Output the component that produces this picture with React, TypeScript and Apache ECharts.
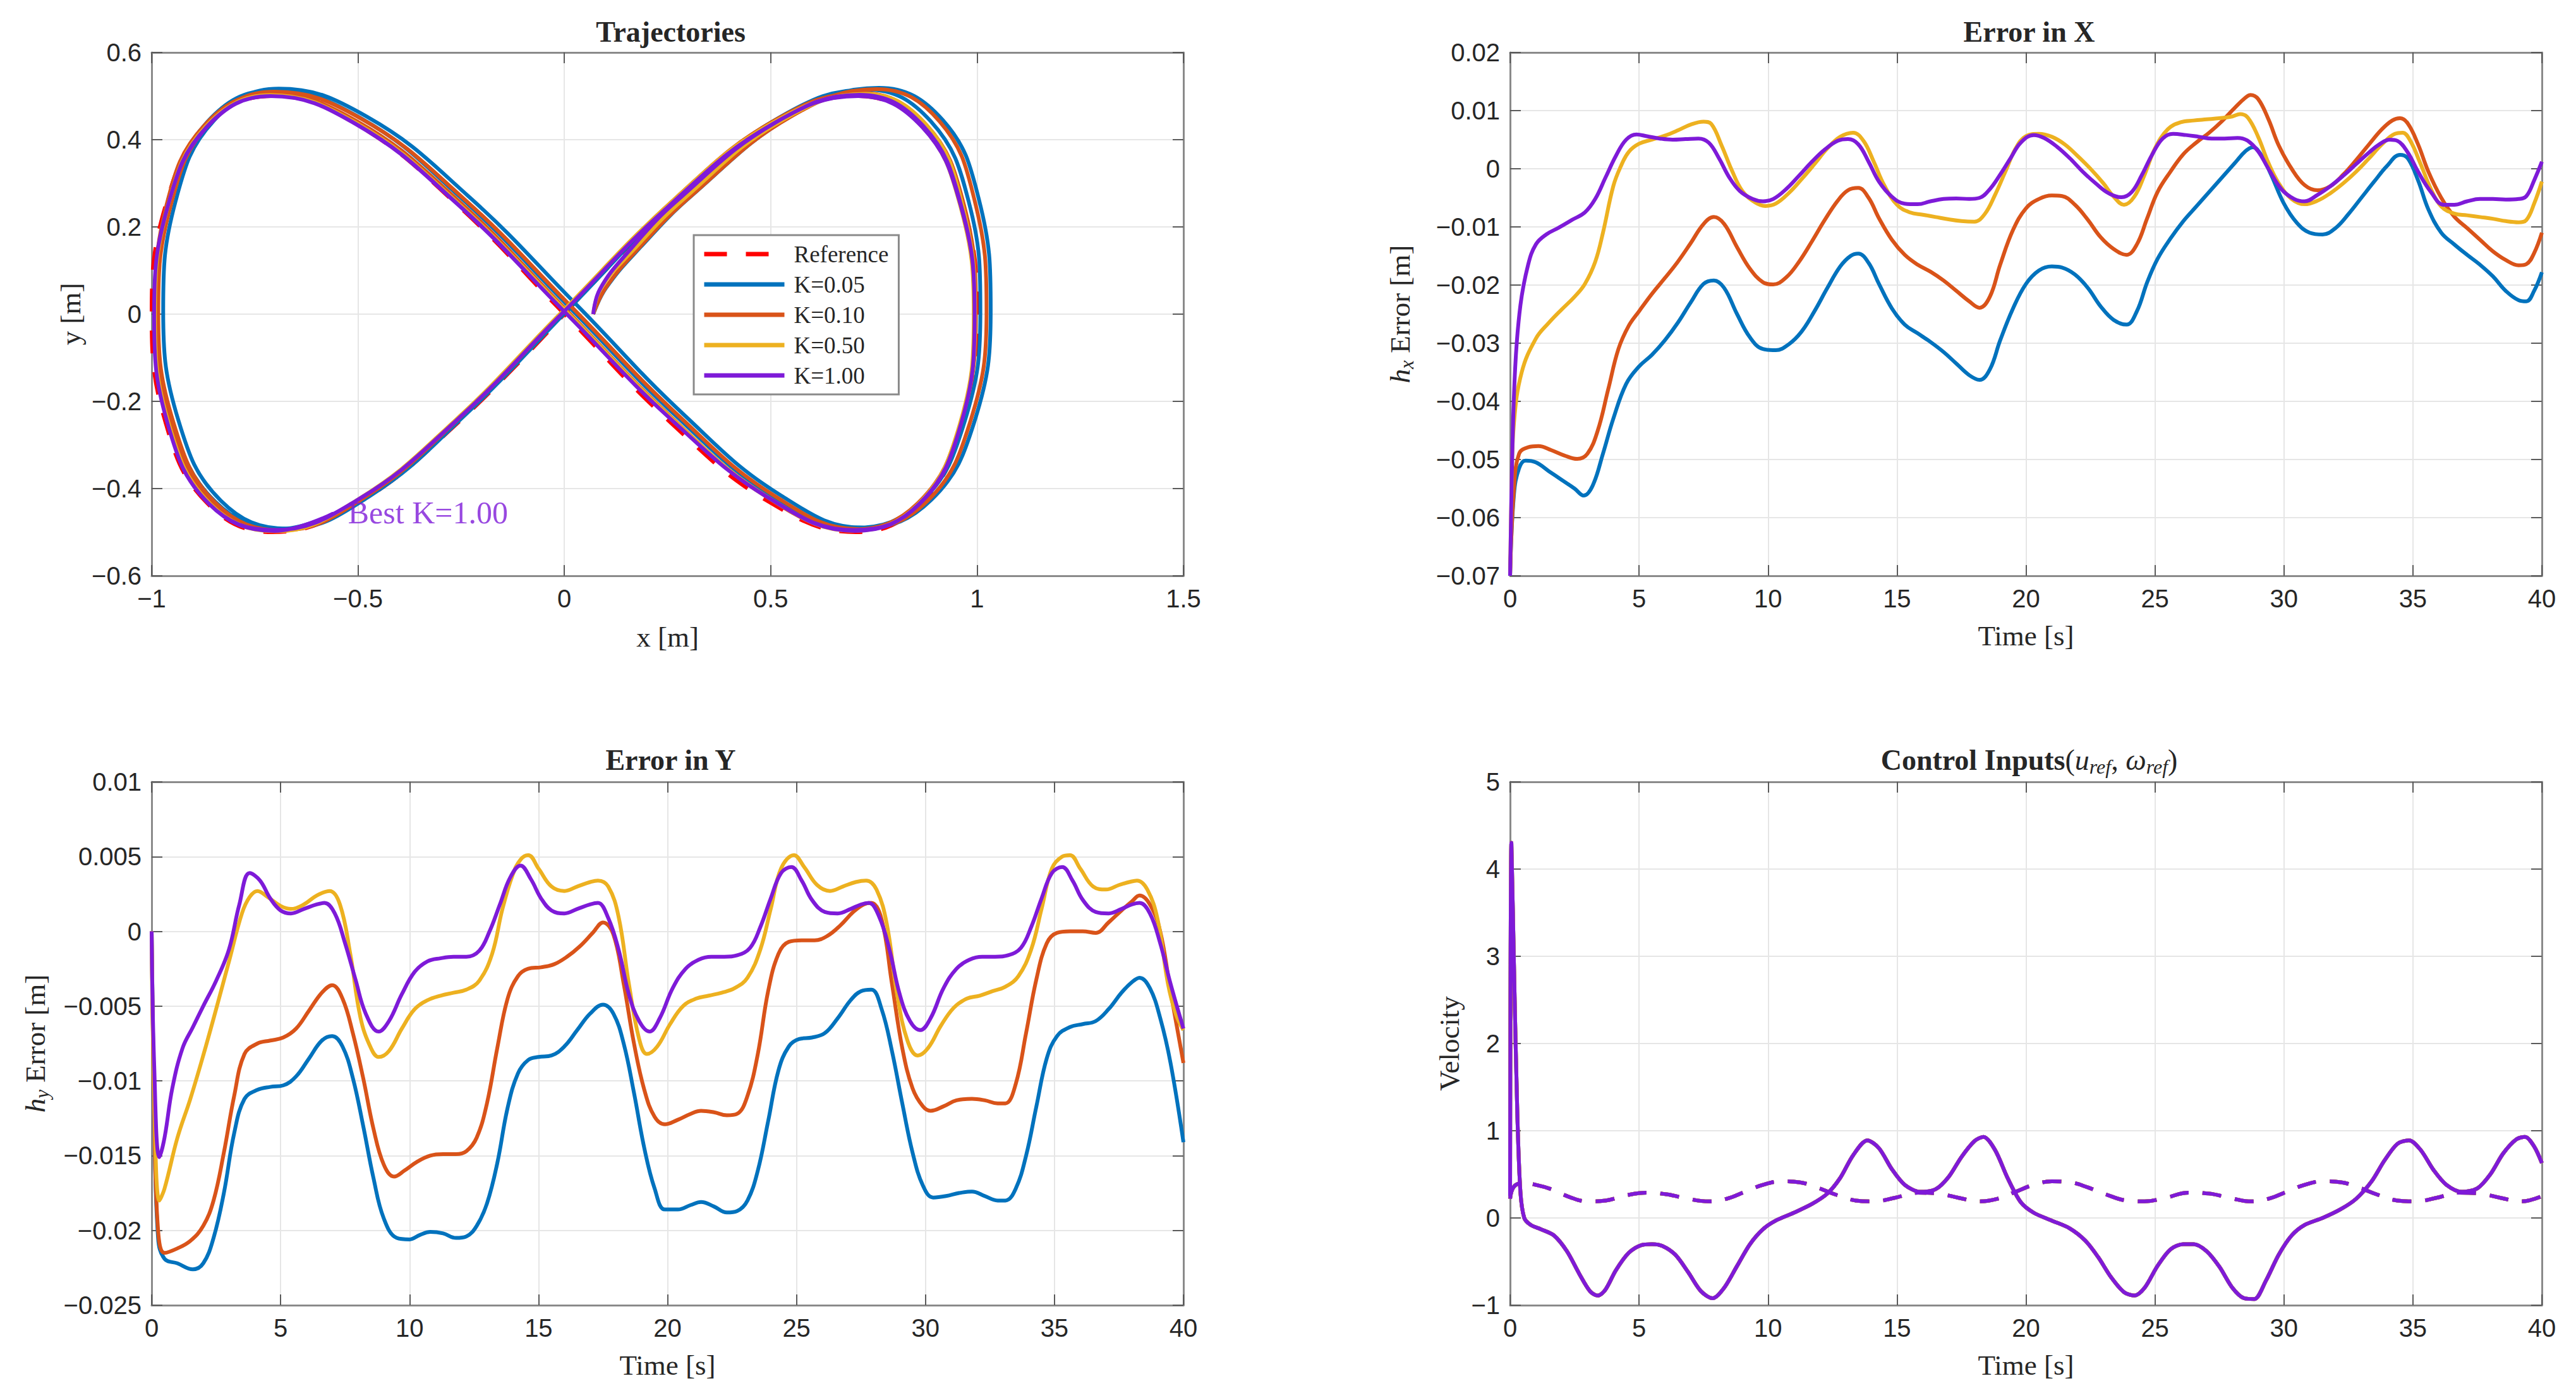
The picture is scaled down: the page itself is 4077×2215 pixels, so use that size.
import React, { useEffect, useRef } from "react";
import * as echarts from "echarts";

// ---- canvas ----
const W = 4077;
const H = 2215;

// ---- colours ----
const C_REF = "#FF0000";
const C_K005 = "#0072BD";
const C_K010 = "#D95319";
const C_K050 = "#EDB120";
const C_K100 = "#7E1AD8";
const AXIS = "#8a8a8a";
const TICK = "#5a5a5a";
const GRID = "#e6e6e6";
const TEXT = "#262626";

// ---- legend / series names ----
const LEGEND_NAMES = ["Reference", "K=0.05", "K=0.10", "K=0.50", "K=1.00"];
const GAIN_COLORS = [C_K005, C_K010, C_K050, C_K100];

// ---- reference figure-eight path [m] ----
const refX = [0, 0.259, 0.5, 0.707, 0.866, 0.966, 1, 0.966, 0.866, 0.707, 0.5, 0.259, 0, -0.259, -0.5, -0.707, -0.866, -0.966, -1, -0.966, -0.866, -0.707, -0.5, -0.259, 0];
const refY = [0, 0.25, 0.433, 0.5, 0.433, 0.25, 0, -0.25, -0.433, -0.5, -0.433, -0.25, 0, 0.25, 0.433, 0.5, 0.433, 0.25, 0, -0.25, -0.433, -0.5, -0.433, -0.25, 0];

// ---- robot paths [x, y] for each gain, 0 to 40 s ----
const trajK005 = [[0.07,0],[0.101,0.060],[0.182,0.151],[0.309,0.272],[0.553,0.456],[0.762,0.519],[0.917,0.445],[1.005,0.261],[1.033,0.010],[0.995,-0.242],[0.889,-0.426],[0.726,-0.490],[0.525,-0.416],[0.289,-0.230],[0.031,0.020],[-0.232,0.270],[-0.479,0.453],[-0.692,0.517],[-0.849,0.444],[-0.942,0.259],[-0.972,0.008],[-0.935,-0.244],[-0.832,-0.428],[-0.671,-0.492],[-0.473,-0.418],[-0.240,-0.231],[0.017,0.018],[0.277,0.269],[0.523,0.452],[0.733,0.515],[0.888,0.442],[0.980,0.257],[1.008,0.007],[0.970,-0.246],[0.866,-0.429],[0.704,-0.490],[0.504,-0.417],[0.269,-0.232],[0.011,0.017],[-0.252,0.268],[-0.496,0.451],[-0.708,0.513],[-0.866,0.440],[-0.956,0.256],[-0.987,0.006],[-0.949,-0.246],[-0.846,-0.430],[-0.684,-0.492],[-0.541,-0.450]];
const trajK010 = [[0.07,0],[0.100,0.060],[0.179,0.150],[0.307,0.271],[0.549,0.453],[0.757,0.516],[0.909,0.442],[0.995,0.257],[1.023,0.007],[0.984,-0.245],[0.879,-0.429],[0.715,-0.493],[0.513,-0.419],[0.278,-0.234],[0.019,0.015],[-0.244,0.265],[-0.492,0.448],[-0.703,0.510],[-0.860,0.437],[-0.953,0.252],[-0.984,0.002],[-0.947,-0.249],[-0.844,-0.434],[-0.684,-0.496],[-0.487,-0.422],[-0.253,-0.237],[0.005,0.012],[0.265,0.262],[0.511,0.445],[0.721,0.507],[0.877,0.434],[0.968,0.251],[0.997,0.000],[0.960,-0.251],[0.856,-0.434],[0.695,-0.494],[0.495,-0.422],[0.261,-0.238],[0.003,0.011],[-0.258,0.261],[-0.504,0.443],[-0.715,0.505],[-0.872,0.433],[-0.964,0.250],[-0.991,0.000],[-0.954,-0.251],[-0.851,-0.435],[-0.691,-0.497],[-0.548,-0.455]];
const trajK050 = [[0.07,0],[0.089,0.060],[0.167,0.147],[0.290,0.265],[0.525,0.443],[0.728,0.505],[0.879,0.432],[0.965,0.248],[0.995,-0.002],[0.960,-0.252],[0.858,-0.436],[0.700,-0.497],[0.502,-0.425],[0.265,-0.243],[0.006,0.005],[-0.258,0.254],[-0.503,0.437],[-0.713,0.502],[-0.868,0.429],[-0.961,0.246],[-0.992,-0.003],[-0.958,-0.253],[-0.857,-0.436],[-0.699,-0.498],[-0.500,-0.425],[-0.265,-0.244],[-0.006,0.005],[0.256,0.254],[0.501,0.437],[0.713,0.501],[0.868,0.429],[0.960,0.246],[0.992,-0.003],[0.958,-0.253],[0.857,-0.436],[0.701,-0.496],[0.502,-0.425],[0.265,-0.244],[0.005,0.005],[-0.257,0.254],[-0.502,0.437],[-0.712,0.501],[-0.870,0.429],[-0.961,0.246],[-0.992,-0.003],[-0.958,-0.253],[-0.857,-0.436],[-0.698,-0.497],[-0.557,-0.457]];
const trajK100 = [[0.07,0],[0.086,0.057],[0.155,0.143],[0.273,0.260],[0.511,0.439],[0.715,0.503],[0.870,0.431],[0.962,0.247],[0.994,-0.001],[0.961,-0.252],[0.861,-0.434],[0.704,-0.497],[0.503,-0.426],[0.264,-0.246],[0.004,0.002],[-0.259,0.252],[-0.504,0.435],[-0.712,0.500],[-0.866,0.429],[-0.961,0.247],[-0.994,-0.001],[-0.961,-0.252],[-0.861,-0.435],[-0.703,-0.495],[-0.501,-0.426],[-0.264,-0.246],[-0.005,0.002],[0.258,0.252],[0.503,0.435],[0.712,0.500],[0.867,0.429],[0.961,0.247],[0.994,-0.001],[0.961,-0.252],[0.861,-0.435],[0.703,-0.495],[0.503,-0.426],[0.264,-0.246],[0.004,0.002],[-0.258,0.252],[-0.503,0.435],[-0.712,0.500],[-0.867,0.429],[-0.961,0.247],[-0.994,-0.001],[-0.961,-0.252],[-0.861,-0.435],[-0.702,-0.497],[-0.560,-0.457]];

// ---- tracking error in x, [t s, error m] ----
const exK005 = [[0,-0.07],[0.15,-0.056],[0.35,-0.0515],[0.6,-0.0502],[1.0,-0.0505],[1.5,-0.052],[2.0,-0.0535],[2.5,-0.055],[2.85,-0.0562],[3.2,-0.0545],[3.6,-0.049],[4.0,-0.043],[4.5,-0.037],[5.0,-0.034],[5.5,-0.032],[6.0,-0.0295],[6.5,-0.0265],[7.0,-0.023],[7.5,-0.0198],[7.9,-0.0192],[8.3,-0.0205],[8.8,-0.025],[9.3,-0.029],[9.8,-0.031],[10.3,-0.0312],[10.8,-0.0302],[11.3,-0.028],[11.8,-0.0245],[12.3,-0.0205],[12.8,-0.0168],[13.2,-0.015],[13.5,-0.0146],[13.9,-0.0162],[14.3,-0.0198],[14.8,-0.024],[15.3,-0.0268],[15.8,-0.0283],[16.3,-0.0298],[16.8,-0.0315],[17.3,-0.0335],[17.8,-0.0355],[18.2,-0.0363],[18.6,-0.0345],[19.0,-0.0295],[19.5,-0.024],[20.0,-0.0198],[20.5,-0.0175],[21.0,-0.0168],[21.4,-0.017],[21.9,-0.0182],[22.4,-0.0205],[22.9,-0.0237],[23.4,-0.026],[23.9,-0.0268],[24.3,-0.0245],[24.7,-0.0195],[25.1,-0.0155],[25.6,-0.012],[26.1,-0.009],[26.6,-0.0065],[27.1,-0.004],[27.6,-0.0015],[28.1,0.001],[28.5,0.003],[28.8,0.0037],[29.1,0.0025],[29.5,-0.001],[30.0,-0.006],[30.5,-0.0093],[31.0,-0.011],[31.5,-0.0113],[32.0,-0.0102],[32.5,-0.0078],[33.0,-0.005],[33.5,-0.0022],[34.0,0.0005],[34.5,0.0024],[34.8,0.0018],[35.2,-0.002],[35.6,-0.007],[36.1,-0.011],[36.6,-0.013],[37.1,-0.0148],[37.6,-0.0165],[38.1,-0.0185],[38.6,-0.021],[39.1,-0.0226],[39.4,-0.0228],[39.7,-0.021],[40,-0.0178]];
const exK010 = [[0,-0.07],[0.15,-0.055],[0.35,-0.049],[0.7,-0.0479],[1.1,-0.0477],[1.6,-0.0484],[2.1,-0.0493],[2.6,-0.0499],[3.0,-0.049],[3.4,-0.045],[3.8,-0.038],[4.2,-0.031],[4.6,-0.027],[5.0,-0.0245],[5.5,-0.0215],[6.0,-0.0188],[6.5,-0.016],[7.0,-0.0128],[7.5,-0.0095],[7.9,-0.0083],[8.3,-0.0095],[8.8,-0.0135],[9.3,-0.0172],[9.8,-0.0195],[10.2,-0.0199],[10.7,-0.0187],[11.2,-0.016],[11.7,-0.0125],[12.2,-0.0088],[12.7,-0.0055],[13.1,-0.0037],[13.5,-0.0033],[13.9,-0.005],[14.3,-0.0085],[14.8,-0.0122],[15.3,-0.0148],[15.8,-0.0165],[16.3,-0.0177],[16.8,-0.0192],[17.3,-0.021],[17.8,-0.0228],[18.2,-0.0239],[18.6,-0.022],[19.0,-0.0165],[19.5,-0.0105],[20.0,-0.0068],[20.5,-0.0052],[21.0,-0.0046],[21.4,-0.0047],[21.9,-0.0062],[22.4,-0.0088],[22.9,-0.0118],[23.4,-0.0138],[23.9,-0.0148],[24.3,-0.013],[24.7,-0.0085],[25.1,-0.004],[25.6,-0.0005],[26.1,0.0025],[26.6,0.0045],[27.1,0.0062],[27.6,0.0082],[28.1,0.0105],[28.5,0.0122],[28.7,0.0127],[29.0,0.012],[29.4,0.0085],[29.8,0.004],[30.3,0.0],[30.8,-0.0028],[31.3,-0.0037],[31.8,-0.003],[32.3,-0.001],[32.8,0.0015],[33.3,0.0042],[33.8,0.0068],[34.2,0.0083],[34.5,0.0087],[34.8,0.0078],[35.2,0.0042],[35.6,-0.0005],[36.1,-0.005],[36.6,-0.0082],[37.1,-0.0102],[37.6,-0.0122],[38.1,-0.0142],[38.6,-0.0157],[39.1,-0.0166],[39.4,-0.0164],[39.7,-0.0145],[40,-0.011]];
const exK050 = [[0,-0.07],[0.06,-0.055],[0.15,-0.0437],[0.45,-0.035],[1.0,-0.0292],[1.5,-0.0265],[2.0,-0.0242],[2.5,-0.022],[2.9,-0.0198],[3.3,-0.016],[3.6,-0.011],[4.0,-0.003],[4.3,0.0005],[4.6,0.0029],[5.0,0.0043],[5.5,0.005],[6.0,0.0057],[6.5,0.0066],[7.0,0.0076],[7.5,0.0081],[7.8,0.0077],[8.2,0.004],[8.6,-0.0003],[9.0,-0.0038],[9.5,-0.0058],[9.9,-0.0064],[10.3,-0.006],[10.8,-0.0042],[11.3,-0.0018],[11.8,0.0008],[12.3,0.0035],[12.8,0.0055],[13.3,0.0062],[13.7,0.0048],[14.1,0.0012],[14.5,-0.0028],[15.0,-0.0062],[15.5,-0.0075],[16.0,-0.0079],[16.5,-0.0083],[17.0,-0.0087],[17.5,-0.009],[18.0,-0.0091],[18.4,-0.0078],[18.8,-0.0045],[19.2,-0.0005],[19.6,0.0035],[20.0,0.0056],[20.5,0.006],[21.0,0.0055],[21.5,0.0042],[22.0,0.0022],[22.5,0.0],[23.0,-0.0025],[23.4,-0.0048],[23.8,-0.0062],[24.2,-0.0048],[24.6,-0.001],[25.0,0.0035],[25.5,0.0068],[26.0,0.008],[26.5,0.0083],[27.0,0.0085],[27.5,0.0087],[28.0,0.009],[28.3,0.0094],[28.6,0.0088],[29.0,0.0055],[29.4,0.001],[29.8,-0.0025],[30.3,-0.0052],[30.8,-0.0061],[31.3,-0.0055],[31.8,-0.0042],[32.3,-0.0025],[32.8,-0.0005],[33.3,0.0018],[33.8,0.0042],[34.3,0.006],[34.6,0.0062],[34.9,0.0048],[35.3,0.0008],[35.7,-0.0035],[36.1,-0.0065],[36.6,-0.0077],[37.1,-0.008],[37.6,-0.0083],[38.1,-0.0086],[38.6,-0.009],[39.1,-0.0092],[39.4,-0.0088],[39.7,-0.006],[40,-0.0022]];
const exK100 = [[0,-0.07],[0.08,-0.05],[0.2,-0.034],[0.4,-0.0235],[0.7,-0.0165],[1.0,-0.013],[1.4,-0.0113],[1.9,-0.0101],[2.4,-0.0088],[2.9,-0.0075],[3.3,-0.0052],[3.7,-0.0015],[4.1,0.0022],[4.5,0.005],[4.9,0.0059],[5.3,0.0056],[5.8,0.0052],[6.3,0.005],[6.8,0.0051],[7.3,0.0052],[7.7,0.0045],[8.1,0.0018],[8.5,-0.0015],[8.9,-0.0038],[9.4,-0.0052],[9.8,-0.0056],[10.2,-0.0052],[10.7,-0.0035],[11.2,-0.0012],[11.7,0.0012],[12.2,0.0033],[12.7,0.0048],[13.1,0.0051],[13.5,0.0042],[13.9,0.0012],[14.3,-0.0022],[14.8,-0.0048],[15.3,-0.006],[15.8,-0.0061],[16.3,-0.0056],[16.8,-0.0052],[17.3,-0.0051],[17.8,-0.0052],[18.2,-0.005],[18.6,-0.0035],[19.0,-0.001],[19.4,0.0018],[19.8,0.0045],[20.3,0.0058],[20.7,0.0053],[21.2,0.0038],[21.7,0.0018],[22.2,-0.0005],[22.7,-0.0025],[23.2,-0.0042],[23.7,-0.0049],[24.1,-0.004],[24.5,-0.001],[24.9,0.0025],[25.3,0.0052],[25.7,0.006],[26.2,0.0058],[26.7,0.0055],[27.2,0.0052],[27.7,0.0052],[28.2,0.0053],[28.6,0.0048],[29.0,0.003],[29.4,0.0],[29.9,-0.0035],[30.4,-0.0052],[30.8,-0.0056],[31.3,-0.0045],[31.8,-0.003],[32.3,-0.0012],[32.8,0.0008],[33.3,0.0028],[33.7,0.0042],[34.1,0.005],[34.4,0.0048],[34.8,0.0028],[35.2,-0.0005],[35.7,-0.004],[36.2,-0.0062],[36.6,-0.0062],[37.1,-0.0056],[37.6,-0.0052],[38.1,-0.0052],[38.6,-0.0053],[39.1,-0.0052],[39.4,-0.0047],[39.7,-0.002],[40,0.0012]];

// ---- tracking error in y, [t s, error m] ----
const eyK005 = [[0,0],[0.1,-0.012],[0.25,-0.0205],[0.5,-0.0219],[1.0,-0.0222],[1.6,-0.0226],[2.0,-0.0222],[2.4,-0.0205],[2.8,-0.0175],[3.2,-0.0135],[3.6,-0.0112],[4.1,-0.0106],[4.6,-0.0104],[5.1,-0.0103],[5.6,-0.0097],[6.1,-0.0085],[6.6,-0.0073],[7.0,-0.007],[7.4,-0.0077],[7.8,-0.0098],[8.2,-0.013],[8.6,-0.0165],[9.0,-0.0192],[9.5,-0.0205],[10.0,-0.0206],[10.4,-0.0203],[10.8,-0.0201],[11.3,-0.0202],[11.8,-0.0205],[12.2,-0.0204],[12.6,-0.0197],[13.0,-0.0182],[13.4,-0.0155],[13.8,-0.0118],[14.2,-0.0095],[14.6,-0.0086],[15.0,-0.0084],[15.5,-0.0083],[16.0,-0.0077],[16.5,-0.0066],[17.0,-0.0055],[17.5,-0.0049],[17.9,-0.0055],[18.3,-0.0075],[18.7,-0.0108],[19.1,-0.0145],[19.5,-0.0172],[19.9,-0.0186],[20.4,-0.0186],[20.9,-0.0183],[21.3,-0.0181],[21.8,-0.0184],[22.3,-0.0188],[22.7,-0.0187],[23.1,-0.018],[23.5,-0.016],[23.9,-0.0127],[24.3,-0.0093],[24.7,-0.0077],[25.1,-0.0072],[25.6,-0.0071],[26.1,-0.0068],[26.6,-0.0058],[27.1,-0.0046],[27.5,-0.004],[27.9,-0.0039],[28.3,-0.0052],[28.7,-0.008],[29.1,-0.0115],[29.5,-0.0148],[29.9,-0.017],[30.3,-0.0178],[30.8,-0.0177],[31.3,-0.0175],[31.8,-0.0174],[32.3,-0.0177],[32.8,-0.018],[33.1,-0.018],[33.5,-0.0172],[33.9,-0.015],[34.3,-0.0117],[34.7,-0.0085],[35.1,-0.007],[35.6,-0.0064],[36.1,-0.0062],[36.6,-0.006],[37.1,-0.0052],[37.6,-0.0041],[38.0,-0.0034],[38.3,-0.0031],[38.7,-0.0038],[39.1,-0.0058],[39.5,-0.0088],[40,-0.0141]];
const eyK010 = [[0,0],[0.1,-0.012],[0.25,-0.02],[0.5,-0.0215],[1.0,-0.0212],[1.5,-0.0207],[2.0,-0.0197],[2.4,-0.018],[2.8,-0.0148],[3.2,-0.011],[3.6,-0.0082],[4.1,-0.0075],[4.6,-0.0073],[5.1,-0.0071],[5.6,-0.0065],[6.1,-0.0053],[6.6,-0.0041],[7.0,-0.0036],[7.4,-0.0045],[7.8,-0.0068],[8.2,-0.0098],[8.6,-0.0132],[9.0,-0.0156],[9.4,-0.0164],[9.8,-0.016],[10.3,-0.0154],[10.8,-0.015],[11.3,-0.0149],[11.8,-0.0149],[12.2,-0.0147],[12.6,-0.0138],[13.0,-0.0115],[13.4,-0.0078],[13.8,-0.0045],[14.2,-0.003],[14.6,-0.0025],[15.1,-0.0024],[15.6,-0.0022],[16.1,-0.0017],[16.6,-0.001],[17.1,-0.0001],[17.5,0.0006],[17.9,-0.0002],[18.3,-0.0035],[18.7,-0.0075],[19.1,-0.0106],[19.5,-0.0124],[19.9,-0.0129],[20.4,-0.0126],[20.9,-0.0122],[21.3,-0.012],[21.8,-0.0121],[22.3,-0.0123],[22.7,-0.0122],[23.1,-0.011],[23.5,-0.0082],[23.9,-0.004],[24.3,-0.0015],[24.7,-0.0007],[25.2,-0.0006],[25.7,-0.0006],[26.2,-0.0003],[26.7,0.0004],[27.2,0.0013],[27.6,0.0018],[27.9,0.0019],[28.3,0.0008],[28.7,-0.0035],[29.1,-0.0078],[29.5,-0.0105],[29.9,-0.0117],[30.2,-0.012],[30.7,-0.0117],[31.2,-0.0113],[31.8,-0.0112],[32.3,-0.0113],[32.8,-0.0115],[33.1,-0.0115],[33.5,-0.0102],[33.9,-0.0068],[34.3,-0.0032],[34.7,-0.0008],[35.1,-0.0001],[35.6,0.0],[36.1,0.0],[36.6,-0.0001],[37.1,0.0006],[37.6,0.0014],[38.0,0.002],[38.3,0.0024],[38.7,0.0018],[39.1,0.0],[39.5,-0.004],[40,-0.0088]];
const eyK050 = [[0,0],[0.1,-0.011],[0.3,-0.018],[0.5,-0.0172],[1.0,-0.0138],[1.5,-0.0112],[2.0,-0.0083],[2.5,-0.0052],[3.0,-0.002],[3.5,0.0012],[3.8,0.0023],[4.1,0.0027],[4.5,0.0023],[5.0,0.0017],[5.4,0.0015],[5.9,0.0018],[6.4,0.0024],[6.9,0.0027],[7.3,0.0018],[7.7,-0.0015],[8.1,-0.0058],[8.5,-0.0078],[8.8,-0.0084],[9.2,-0.008],[9.7,-0.0065],[10.2,-0.0052],[10.7,-0.0046],[11.2,-0.0043],[11.7,-0.0041],[12.2,-0.0039],[12.7,-0.0033],[13.2,-0.0015],[13.6,0.0015],[14.0,0.0038],[14.3,0.0048],[14.6,0.0051],[15.0,0.0042],[15.5,0.003],[16.0,0.0027],[16.5,0.003],[17.0,0.0033],[17.3,0.0034],[17.7,0.003],[18.1,0.001],[18.5,-0.0035],[18.9,-0.0072],[19.2,-0.0082],[19.6,-0.0077],[20.1,-0.0062],[20.6,-0.005],[21.1,-0.0045],[21.6,-0.0043],[22.1,-0.0041],[22.6,-0.0038],[23.1,-0.0031],[23.6,-0.0012],[24.0,0.0015],[24.4,0.0042],[24.9,0.0051],[25.3,0.0043],[25.8,0.0031],[26.3,0.0027],[26.8,0.003],[27.3,0.0033],[27.7,0.0034],[28.1,0.0028],[28.5,0.0005],[28.9,-0.0042],[29.3,-0.0073],[29.7,-0.0083],[30.1,-0.0078],[30.6,-0.0063],[31.1,-0.0051],[31.6,-0.0045],[32.1,-0.0043],[32.6,-0.004],[33.1,-0.0037],[33.6,-0.003],[34.1,-0.0012],[34.5,0.0015],[34.9,0.0042],[35.3,0.005],[35.6,0.0051],[36.0,0.0042],[36.5,0.003],[37.0,0.0028],[37.5,0.0031],[37.9,0.0033],[38.2,0.0034],[38.6,0.0028],[39.0,0.0008],[39.4,-0.0035],[39.7,-0.0055],[40,-0.0066]];
const eyK100 = [[0,0],[0.1,-0.009],[0.3,-0.0151],[0.5,-0.0138],[0.8,-0.0105],[1.2,-0.0078],[1.6,-0.0064],[2.0,-0.005],[2.5,-0.0033],[3.0,-0.0012],[3.4,0.0018],[3.8,0.0039],[4.2,0.0034],[4.6,0.0022],[5.0,0.0014],[5.4,0.0012],[5.9,0.0015],[6.4,0.0018],[6.7,0.0019],[7.1,0.0012],[7.5,-0.0008],[7.9,-0.0032],[8.3,-0.0055],[8.8,-0.0067],[9.2,-0.006],[9.7,-0.0042],[10.2,-0.0027],[10.7,-0.002],[11.2,-0.0018],[11.7,-0.0017],[12.2,-0.0017],[12.7,-0.0013],[13.1,0.0],[13.5,0.0018],[13.9,0.0036],[14.3,0.0044],[14.7,0.0035],[15.1,0.0022],[15.5,0.0014],[16.0,0.0012],[16.5,0.0015],[17.0,0.0018],[17.3,0.0019],[17.7,0.0009],[18.1,-0.0012],[18.5,-0.0042],[18.9,-0.006],[19.3,-0.0067],[19.7,-0.0058],[20.2,-0.0038],[20.7,-0.0025],[21.2,-0.0019],[21.7,-0.0017],[22.2,-0.0017],[22.7,-0.0016],[23.2,-0.0011],[23.6,0.0003],[24.0,0.0022],[24.4,0.0039],[24.8,0.0043],[25.2,0.0034],[25.6,0.0021],[26.1,0.0013],[26.6,0.0012],[27.1,0.0015],[27.5,0.0018],[27.8,0.0019],[28.2,0.001],[28.6,-0.0012],[29.0,-0.0042],[29.4,-0.006],[29.8,-0.0066],[30.2,-0.0058],[30.7,-0.0038],[31.2,-0.0025],[31.7,-0.0019],[32.2,-0.0017],[32.7,-0.0017],[33.2,-0.0016],[33.7,-0.0011],[34.1,0.0003],[34.5,0.0022],[34.9,0.0039],[35.3,0.0043],[35.7,0.0034],[36.1,0.0021],[36.6,0.0013],[37.1,0.0012],[37.6,0.0015],[38.0,0.0018],[38.3,0.0019],[38.7,0.0012],[39.1,-0.0008],[39.5,-0.0035],[40,-0.0065]];

// ---- control inputs, [t s, value] ----
const ctrlU = [[0,0.22],[0.15,0.36],[0.5,0.4],[1.0,0.38],[1.6,0.33],[2.3,0.24],[3.0,0.19],[3.7,0.2],[4.5,0.26],[5.3,0.29],[6.1,0.27],[6.9,0.22],[7.7,0.19],[8.4,0.22],[9.1,0.3],[9.8,0.38],[10.5,0.42],[11.2,0.41],[11.9,0.35],[12.6,0.27],[13.4,0.2],[14.1,0.19],[14.9,0.23],[15.8,0.29],[16.6,0.28],[17.4,0.23],[18.2,0.19],[18.9,0.22],[19.6,0.3],[20.3,0.38],[21.0,0.42],[21.7,0.41],[22.4,0.35],[23.1,0.27],[23.9,0.2],[24.6,0.19],[25.4,0.23],[26.3,0.29],[27.1,0.28],[27.9,0.23],[28.7,0.19],[29.4,0.22],[30.1,0.3],[30.8,0.38],[31.5,0.42],[32.2,0.41],[32.9,0.35],[33.6,0.27],[34.4,0.2],[35.1,0.19],[35.9,0.23],[36.8,0.29],[37.6,0.28],[38.4,0.23],[39.2,0.19],[40,0.25]];
const ctrlW = [[0,0.25],[0.05,4.3],[0.15,2.9],[0.28,1.2],[0.4,0.3],[0.55,0.0],[0.8,-0.08],[1.2,-0.13],[1.7,-0.2],[2.2,-0.38],[2.7,-0.65],[3.1,-0.84],[3.4,-0.89],[3.7,-0.82],[4.1,-0.6],[4.6,-0.4],[5.1,-0.31],[5.5,-0.3],[5.9,-0.32],[6.4,-0.42],[6.9,-0.62],[7.4,-0.84],[7.85,-0.92],[8.3,-0.8],[8.8,-0.55],[9.3,-0.3],[9.8,-0.13],[10.3,-0.03],[11.0,0.06],[11.7,0.16],[12.3,0.28],[12.8,0.46],[13.3,0.72],[13.85,0.89],[14.3,0.8],[14.8,0.56],[15.3,0.38],[15.9,0.3],[16.5,0.33],[17.0,0.47],[17.5,0.7],[18.0,0.88],[18.35,0.93],[18.8,0.78],[19.3,0.45],[19.8,0.18],[20.3,0.06],[21.0,-0.03],[21.7,-0.12],[22.3,-0.26],[22.8,-0.45],[23.3,-0.68],[23.8,-0.85],[24.2,-0.89],[24.6,-0.8],[25.1,-0.55],[25.6,-0.36],[26.1,-0.3],[26.5,-0.3],[27.0,-0.38],[27.5,-0.56],[28.0,-0.8],[28.45,-0.92],[28.85,-0.93],[29.3,-0.72],[29.8,-0.42],[30.3,-0.2],[30.8,-0.08],[31.5,0.0],[32.2,0.1],[32.8,0.22],[33.4,0.42],[33.9,0.66],[34.4,0.85],[34.85,0.89],[35.3,0.78],[35.8,0.55],[36.3,0.38],[36.9,0.3],[37.5,0.34],[38.0,0.5],[38.5,0.74],[39.0,0.9],[39.35,0.93],[39.7,0.82],[40,0.63]];

// ---- annotation anchor (data coords of the trajectory panel) ----
const BEST_LABEL = "Best K=1.00";
const BEST_AT = [-0.525, -0.455];

// ---- layout ----
const PANELS = [
  { left: 240, top: 83, width: 1633, height: 828 },
  { left: 2390, top: 83, width: 1633, height: 828 },
  { left: 240, top: 1237, width: 1633, height: 828 },
  { left: 2390, top: 1237, width: 1633, height: 828 },
];

const SERIF = "'Liberation Serif', 'Times New Roman', serif";
const SANS = "'Liberation Sans', Arial, sans-serif";

const tickFmt = (v: number) => {
  const r = Math.round(v * 1e6) / 1e6;
  return r < 0 ? "\u2212" + String(-r) : String(r);
};

const nameStyle = {
  fontFamily: SERIF,
  fontSize: 45,
  color: TEXT,
  rich: {
    i: { fontFamily: SERIF, fontStyle: "italic", fontSize: 45, color: TEXT },
    s: { fontFamily: SERIF, fontStyle: "italic", fontSize: 31, color: TEXT, padding: [22, 0, 0, 0] },
  },
};

const boxLine = { show: true, onZero: false, lineStyle: { color: AXIS, width: 3 } };
const innerTick = { show: true, inside: true, length: 17, lineStyle: { color: TICK, width: 2 } };

function makeX(grid: number, min: number, max: number, interval: number, name: string, gap: number) {
  return [
    {
      type: "value", gridIndex: grid, min, max, interval, position: "bottom",
      name, nameLocation: "middle", nameGap: gap, nameTextStyle: nameStyle,
      axisLine: boxLine, axisTick: innerTick,
      axisLabel: { margin: 16, fontFamily: SANS, fontSize: 40, color: TEXT, formatter: tickFmt },
      splitLine: { show: true, lineStyle: { color: GRID, width: 2 } },
    },
    {
      type: "value", gridIndex: grid, min, max, interval, position: "top",
      axisLine: boxLine, axisTick: innerTick, axisLabel: { show: false }, splitLine: { show: false },
    },
  ];
}

function makeY(grid: number, min: number, max: number, interval: number, name: string, gap: number) {
  return [
    {
      type: "value", gridIndex: grid, min, max, interval, position: "left",
      name, nameLocation: "middle", nameGap: gap, nameTextStyle: nameStyle,
      axisLine: boxLine, axisTick: innerTick,
      axisLabel: { margin: 16, fontFamily: SANS, fontSize: 40, color: TEXT, formatter: tickFmt },
      splitLine: { show: true, lineStyle: { color: GRID, width: 2 } },
    },
    {
      type: "value", gridIndex: grid, min, max, interval, position: "right",
      axisLine: boxLine, axisTick: innerTick, axisLabel: { show: false }, splitLine: { show: false },
    },
  ];
}

function lineSeries(name: string, grid: number, data: number[][], color: string, opts: any = {}) {
  return {
    type: "line", name, xAxisIndex: grid * 2, yAxisIndex: grid * 2, data,
    showSymbol: false, symbol: "none", smooth: opts.smooth ?? 0.4, clip: true,
    lineStyle: { color, width: 6, type: opts.dash || "solid", cap: "butt", join: "round" },
    itemStyle: { color },
    emphasis: { disabled: true }, silent: true,
    z: 2,
  };
}

function buildOption() {
  const refData = refX.map((x, i) => [x, refY[i]]);
  const trajs = [trajK005, trajK010, trajK050, trajK100];
  const exs = [exK005, exK010, exK050, exK100];
  const eys = [eyK005, eyK010, eyK050, eyK100];

  const series: any[] = [];
  series.push(lineSeries("Reference", 0, refData, C_REF, { dash: [36, 30], smooth: 0.42 }));
  trajs.forEach((d, k) => series.push(lineSeries(LEGEND_NAMES[k + 1], 0, d, GAIN_COLORS[k], { smooth: 0.42 })));
  exs.forEach((d, k) => series.push(lineSeries(LEGEND_NAMES[k + 1], 1, d, GAIN_COLORS[k])));
  eys.forEach((d, k) => series.push(lineSeries(LEGEND_NAMES[k + 1], 2, d, GAIN_COLORS[k])));
  GAIN_COLORS.forEach((c, k) => {
    series.push(lineSeries("u_ref " + LEGEND_NAMES[k + 1], 3, ctrlU, c, { dash: [30, 22] }));
    series.push(lineSeries("w_ref " + LEGEND_NAMES[k + 1], 3, ctrlW, c, { smooth: 0.3 }));
  });
  series.push({
    type: "scatter", name: "best", xAxisIndex: 0, yAxisIndex: 0, data: [BEST_AT],
    symbolSize: 1, itemStyle: { color: "rgba(0,0,0,0)" }, silent: true, z: 5,
    label: {
      show: true, position: "right", distance: 0, formatter: BEST_LABEL,
      fontFamily: SERIF, fontSize: 50, color: C_K100,
    },
  });

  const titleStyle = { fontFamily: SERIF, fontSize: 46, fontWeight: "bold", color: TEXT };
  const plain = { fontFamily: SERIF, fontSize: 46, fontWeight: "normal", color: TEXT };
  const cx = (p: any) => p.left + p.width / 2;

  return {
    animation: false,
    backgroundColor: "#ffffff",
    grid: PANELS.map((p) => ({ ...p, containLabel: false, show: false })),
    title: [
      { text: "Trajectories", left: cx(PANELS[0]), top: 22, textAlign: "center", textStyle: titleStyle },
      { text: "Error in X", left: cx(PANELS[1]), top: 22, textAlign: "center", textStyle: titleStyle },
      { text: "Error in Y", left: cx(PANELS[2]), top: 1174, textAlign: "center", textStyle: titleStyle },
      {
        text: "{b|Control Inputs}{n|(}{i|u}{s|ref}{n|, }{i|\u03c9}{s|ref}{n|)}",
        left: cx(PANELS[3]), top: 1170, textAlign: "center",
        textStyle: {
          ...titleStyle,
          rich: {
            b: { ...titleStyle },
            n: { ...plain },
            i: { ...plain, fontStyle: "italic" },
            s: { ...plain, fontSize: 32, fontStyle: "italic", padding: [22, 0, 0, 0] },
          },
        },
      },
    ],
    legend: {
      data: LEGEND_NAMES,
      orient: "vertical",
      left: 1098,
      top: 372,
      itemWidth: 127,
      itemHeight: 20,
      itemGap: 8,
      padding: [10, 16, 10, 13],
      backgroundColor: "#ffffff",
      borderColor: AXIS,
      borderWidth: 3,
      selectedMode: false,
      itemStyle: { color: "rgba(0,0,0,0)", borderWidth: 0, opacity: 0 },
      lineStyle: { width: 7 },
      textStyle: { fontFamily: SERIF, fontSize: 37, color: TEXT, lineHeight: 40, padding: [0, 0, 0, 10] },
    },
    xAxis: [
      ...makeX(0, -1, 1.5, 0.5, "x [m]", 74),
      ...makeX(1, 0, 40, 5, "Time [s]", 72),
      ...makeX(2, 0, 40, 5, "Time [s]", 72),
      ...makeX(3, 0, 40, 5, "Time [s]", 72),
    ],
    yAxis: [
      ...makeY(0, -0.6, 0.6, 0.2, "y [m]", 106),
      ...makeY(1, -0.07, 0.02, 0.01, "{i|h}{s|x} Error [m]", 148),
      ...makeY(2, -0.025, 0.01, 0.005, "{i|h}{s|y} Error [m]", 158),
      ...makeY(3, -1, 5, 1, "Velocity", 74),
    ],
    series,
  };
}

export default function App() {
  const ref = useRef<HTMLDivElement>(null);
  useEffect(() => {
    if (!ref.current) return;
    const chart = echarts.init(ref.current, undefined, { renderer: "svg", width: W, height: H });
    chart.setOption(buildOption() as any);
    return () => chart.dispose();
  }, []);
  return (
    <div
      ref={ref}
      style={{ position: "absolute", left: 0, top: 0, width: W, height: H, background: "#ffffff" }}
    />
  );
}
